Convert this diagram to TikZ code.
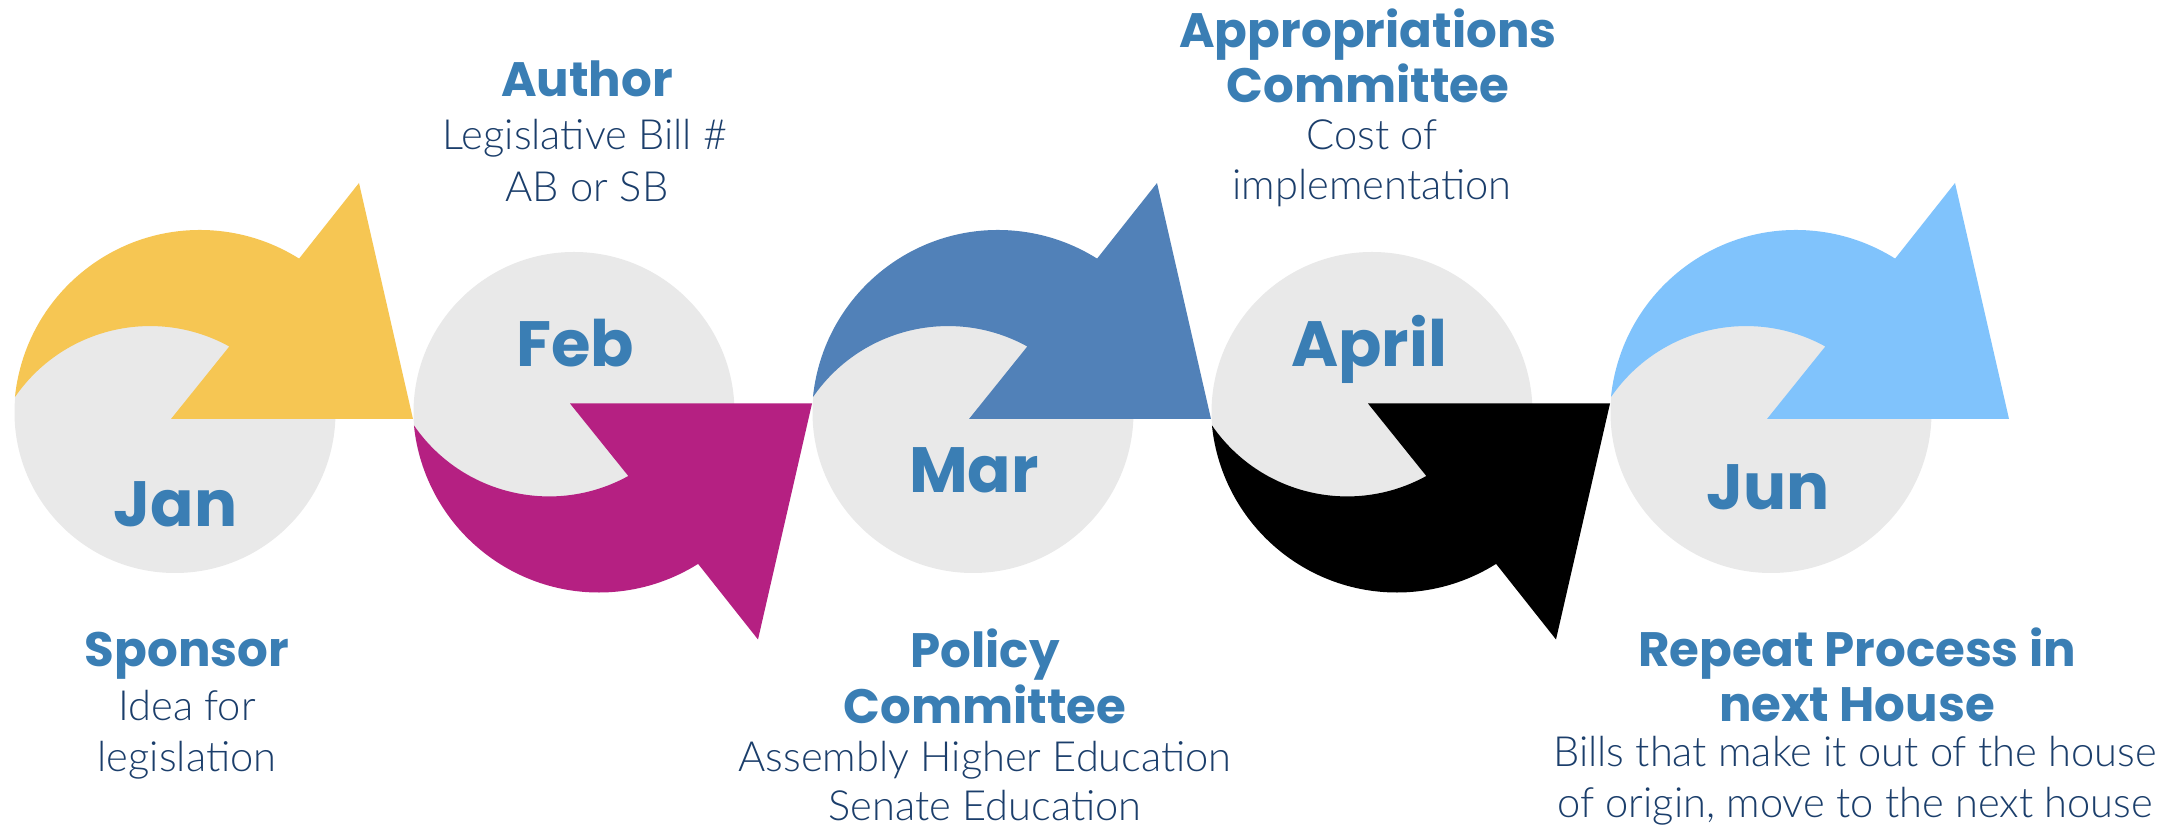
\documentclass[tikz,border=0pt]{standalone}
\usepackage{fontspec}
\newfontfamily\headfont{Poppins}
\newfontfamily\bodyfont{Lato Light}
\definecolor{headblue}{HTML}{3A7EB4}
\definecolor{bodyblue}{HTML}{1B3E6B}
\definecolor{discgray}{HTML}{E9E9E9}
\definecolor{cyellow}{HTML}{F6C653}
\definecolor{cmagenta}{HTML}{B52082}
\definecolor{cblue}{HTML}{5181B8}
\definecolor{cblack}{HTML}{000000}
\definecolor{clight}{HTML}{80C3FC}
\newcommand\circarrowshape[1]{%
  \fill[#1] (-160.03,14.24) arc[start angle=174.14, end angle=57.8, radius=186]
    -- (184,228.25) -- (238,-7.75) -- (-4,-7.75) -- (54.3,64.75)
    arc[start angle=61.1, end angle=145.4, radius=164] -- cycle;}
\begin{document}
\begin{tikzpicture}[x=1pt,y=1pt,
  headtxt/.style={font=\headfont\bfseries\fontsize{48.3}{55}\selectfont, text=headblue, anchor=base, inner sep=0pt, outer sep=0pt},
  bodytxt/.style={font=\bodyfont\fontsize{41.6}{50}\selectfont, text=bodyblue, anchor=base, inner sep=0pt, outer sep=0pt},
  monthtxt/.style={font=\headfont\bfseries\fontsize{64}{70}\selectfont, text=headblue, anchor=base, inner sep=0pt, outer sep=0pt},
  disc/.style={fill=discgray}]
\useasboundingbox (0,0) rectangle (2182,826);
\fill[white] (0,0) rectangle (2182,826);
% discs
\foreach \k in {0,...,4}{\fill[disc] (175+399*\k,413.5) circle[radius=160.5];}
% arrows
\begin{scope}[shift={(175,414.75)}]\circarrowshape{cyellow}\end{scope}
\begin{scope}[shift={(574,414.75)},yscale=-1]\circarrowshape{cmagenta}\end{scope}
\begin{scope}[shift={(973,414.75)}]\circarrowshape{cblue}\end{scope}
\begin{scope}[shift={(1372,414.75)},yscale=-1]\circarrowshape{cblack}\end{scope}
\begin{scope}[shift={(1771,414.75)}]\circarrowshape{clight}\end{scope}
% months
\node[monthtxt] (jan) at (175.5,299) {Jan};
\node[monthtxt] (feb) at (575,459) {Feb};
\node[monthtxt] (mar) at (974,333) {Mar};
\node[monthtxt] (apr) at (1369,459) {April};
\node[monthtxt] (jun) at (1768,316) {Jun};
% sponsor
\node[headtxt] (s1) at (187,159) {Sponsor};
\node[bodytxt] (s2) at (187,105) {Idea for};
\node[bodytxt] (s3) at (187,54) {legislation};
% author
\node[headtxt] (a1) at (587,729) {Author};
\node[bodytxt] (a2) at (585,676) {Legislative Bill \#};
\node[bodytxt] (a3) at (587,624) {AB or SB};
% policy
\node[headtxt] (p1) at (985,158) {Policy};
\node[headtxt] (p2) at (985,102) {Committee};
\node[bodytxt] (p3) at (985,54) {Assembly Higher Education};
\node[bodytxt] (p4) at (985,5) {Senate Education};
% appropriations
\node[headtxt] (q1) at (1368,778) {Appropriations};
\node[headtxt] (q2) at (1368,723) {Committee};
\node[bodytxt] (q3) at (1372,676) {Cost of};
\node[bodytxt] (q4) at (1372,626) {implementation};
% repeat
\node[headtxt] (r1) at (1857,159) {Repeat Process in};
\node[headtxt] (r2) at (1857,104) {next House};
\node[bodytxt] (r3) at (1855,59) {Bills that make it out of the house};
\node[bodytxt] (r4) at (1855,8) {of origin, move to the next house};
\end{tikzpicture}
\end{document}
